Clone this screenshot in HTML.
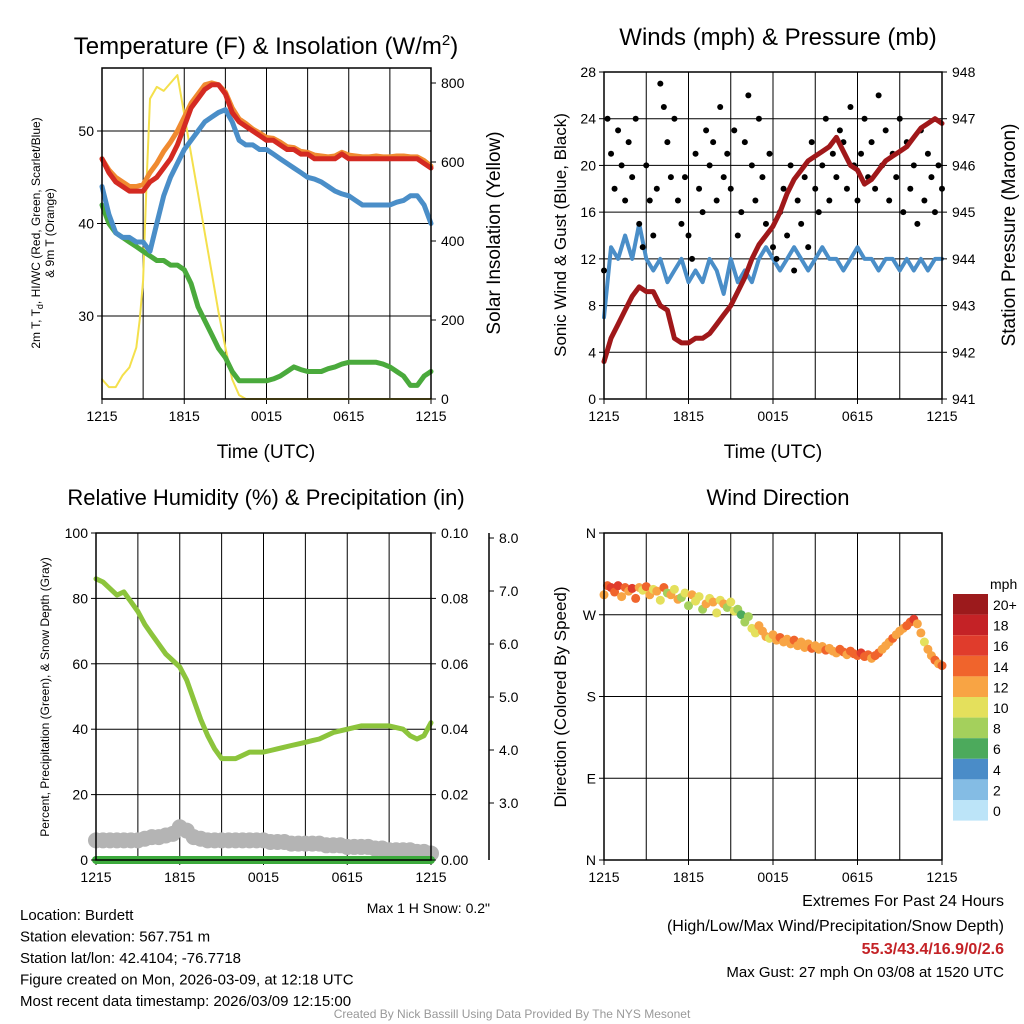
<!DOCTYPE html>
<html><head><meta charset="utf-8">
<style>
body{margin:0;background:#fff;}
svg{display:block;font-family:"Liberation Sans",sans-serif;}
</style></head>
<body>
<svg id="c" width="1024" height="1024" viewBox="0 0 1024 1024">
</svg>
<script>
// ---------- data ----------
const hh = [0,0.5,1,1.5,2,2.5,3,3.5,4,4.5,5,5.5,6,6.5,7,7.5,8,8.5,9,9.5,10,10.5,11,11.5,12,12.5,13,13.5,14,14.5,15,15.5,16,16.5,17,17.5,18,18.5,19,19.5,20,20.5,21,21.5,22,22.5,23,23.5,24];
const tempRed = [47,45.5,44.5,44,43.5,43.5,43.5,44.5,45,46,47,48.5,50.5,52.5,53.5,54.5,55,55,54,52,51,50.5,50,49.5,49,49,48.5,48,48,47.5,47.5,47,47,47,47,47.5,47,47,47,47,47,47,47,47,47,47,47,46.5,46];
const temp9m = [47,45.8,45,44.5,44,44,44.2,45.5,46.5,47.8,48.8,50,51.5,53,54,55,55.2,55,54.2,52.5,51.3,50.8,50.2,49.8,49.3,49.2,48.8,48.3,48.2,47.8,47.7,47.4,47.3,47.2,47.3,47.7,47.4,47.3,47.2,47.2,47.3,47.2,47.2,47.3,47.3,47.2,47.2,46.8,46.2];
const windChill = [44,41,39,38.5,38.5,38,38,37,40,43,45,46.5,48,49,50,51,51.5,52,52.3,51,49,48.5,48.5,48,48,47.5,47,46.5,46,45.5,45,44.8,44.5,44,43.5,43.2,43,42.5,42,42,42,42,42,42.3,42.5,43,43,42,40];
const dewpoint = [42,40,39,38.5,38,37.5,37,36.5,36,36,35.5,35.5,35,33.5,31,29.5,28,26.5,25.5,24,23,23,23,23,23,23.2,23.5,24,24.5,24.2,24,24,24,24.3,24.5,24.8,25,25,25,25,25,24.8,24.5,24,23.5,22.5,22.5,23.5,24];
const solarH = [0,0.5,1,1.5,2,2.5,2.75,3,3.25,3.5,4,4.5,5,5.5,6,6.5,7,7.5,8,8.5,9,9.5,10,10.5,24];
const solar = [50,30,30,60,80,130,200,300,550,760,790,780,800,820,720,620,520,420,320,220,130,50,10,0,0];
const pressure = [941.8,942.3,942.6,942.9,943.2,943.4,943.3,943.3,943.0,942.9,942.3,942.2,942.2,942.3,942.3,942.4,942.6,942.8,943.0,943.3,943.6,944.0,944.3,944.5,944.7,945.0,945.4,945.7,945.9,946.1,946.2,946.3,946.4,946.6,946.3,946.0,945.9,945.6,945.7,945.9,946.1,946.2,946.3,946.4,946.6,946.8,946.9,947.0,946.9];
const sonicWind = [7,13,12,14,12,15,12,11,12,10,11,12,10,11,10,12,11,9,12,10,11,10,12,13,12,11,12,13,12,11,12,13,12,12,11,12,13,12,12,11,12,12,11,12,11,12,11,12,12];
const gust = [11,24,21,18,23,20,17,22,19,24,15,13,20,17,14,18,27,25,22,19,24,17,15,19,14,12,21,18,16,23,20,22,17,25,19,21,18,23,14,16,22,26,20,17,24,19,15,21,13,12,16,18,14,20,11,17,15,19,13,22,18,16,20,24,17,21,19,23,22,18,25,20,17,21,24,19,22,18,26,20,23,17,21,19,24,16,22,18,20,15,23,17,21,19,16,20,18];
const rh = [86,85,83,81,82,79,76,72,69,66,63,61,59,55,49,43,38,34,31,31,31,32,33,33,33,33.5,34,34.5,35,35.5,36,36.5,37,38,39,39.5,40,40.5,41,41,41,41,41,40.5,40,38,37,38,42];
const snowDepth = [6,6,6,6,6,6,6,6.5,7,7,7.5,8,10,9,7,6.5,6,6,6,6,6,6,6,6,6,5.5,5.5,5.5,5,5,5,5,5,4.5,4.5,4.5,4,4,4,4,3.5,3.5,3,3,3,3,2.5,2.5,2];
const windDir = [292,302,300,295,302,290,300,296,299,288,300,297,301,292,298,296,286,300,294,292,298,287,289,294,280,292,285,290,276,282,288,284,272,286,282,278,284,274,276,270,262,268,255,250,258,252,246,244,248,242,245,240,243,238,242,236,240,234,238,233,236,232,235,231,233,230,228,232,229,226,230,227,225,228,224,226,222,225,228,232,236,240,244,248,252,255,258,262,265,260,250,240,232,225,220,216,214];
const windSpd = [12,14,15,13,16,11,14,12,15,13,12,10,14,11,9,12,10,13,8,11,9,12,8,10,7,11,9,10,8,12,9,11,10,9,11,8,10,9,7,6,8,7,9,10,11,12,11,10,12,11,13,12,11,12,13,12,11,12,12,13,12,11,12,13,12,11,12,14,13,12,13,14,13,15,14,13,12,13,14,12,11,12,13,12,11,12,13,14,15,12,11,10,11,12,13,12,13];
const cbLabels = ["20+","18","16","14","12","10","8","6","4","2","0"];
const cbColors = ["#9c1a1c","#c42226","#e03c2c","#f0642c","#f8a444","#e4e05c","#a4d05c","#4caa5c","#4a8cc8","#84bce4","#bce4f8"];
const xTickLabels = ["1215","1815","0015","0615","1215"];

// ---------- helpers ----------
const NS="http://www.w3.org/2000/svg";
const svg=document.getElementById('c');
function mk(tag,attrs,parent){const e=document.createElementNS(NS,tag);for(const k in attrs)e.setAttribute(k,attrs[k]);(parent||svg).appendChild(e);return e;}
function txt(x,y,s,size,anchor,extra){const e=mk('text',Object.assign({x:x,y:y,'font-size':size,'text-anchor':anchor||'middle',fill:'#000'},extra||{}));e.textContent=s;return e;}
function lin(d0,d1,r0,r1){return v=>r0+(v-d0)/(d1-d0)*(r1-r0);}
function pathOf(xs,ys,fx,fy){return xs.map((x,i)=>(i?'L':'M')+fx(x).toFixed(1)+','+fy(ys[i]).toFixed(1)).join('');}
function idxHours(arr){return arr.map((_,i)=>i*24/(arr.length-1));}

function frame(x0,y0,x1,y1,name){
  const r=mk('rect',{x:x0,y:y0,width:x1-x0,height:y1-y0,fill:'none',stroke:'#000','stroke-width':1.5});
  
  
}
function vgrid(x0,y0,x1,y1,name){
  const fx=lin(0,24,x0,x1);
  for(let h=3;h<24;h+=3){
    const l=mk('line',{x1:fx(h),x2:fx(h),y1:y0,y2:y1,stroke:'#000','stroke-width':1});
    
    
  }
  xTickLabels.forEach((s,i)=>{
    const t=txt(fx(i*6),y1+22,s,14);
    
    
    const tk=mk('line',{x1:fx(i*6),x2:fx(i*6),y1:y1,y2:y1+5,stroke:'#000'});
    
    
  });
}
function hgrid(x0,x1,ys,name){
  ys.forEach(y=>{const l=mk('line',{x1:x0,x2:x1,y1:y,y2:y,stroke:'#000','stroke-width':1});
  
  });
}
function yTicks(x,vals,fy,left,name,fmt,size){
  vals.forEach(v=>{
    const tk=mk('line',{x1:x,x2:left?x-5:x+5,y1:fy(v),y2:fy(v),stroke:'#000'});
    
    
    const t=txt(left?x-8:x+10,fy(v)+5,fmt?fmt(v):String(v),size||14,left?'end':'start');
    
    
  });
}
function line(xs,ys,fx,fy,color,w,name){
  const p=mk('path',{d:pathOf(xs,ys,fx,fy),fill:'none',stroke:color,'stroke-width':w,'stroke-linejoin':'round','stroke-linecap':'round'});
  
  
}

// ---------- Panel 1 ----------
(function(){
  const X0=102,X1=431,Y0=68,Y1=399;
  const fx=lin(0,24,X0,X1), fy=lin(30,50,316,131), fs=lin(0,800,399,83);
  vgrid(X0,Y0,X1,Y1,'temp-panel');
  hgrid(X0,X1,[fy(30),fy(40),fy(50)],'temp-panel');
  line(solarH,solar,fx,fs,'#f4e04c',2,'solar-insolation-line');
  line(hh,dewpoint,fx,fy,'#4aaa3c',5,'dewpoint-line');
  line(hh,windChill,fx,fy,'#4a8ec8',5,'wind-chill-line');
  line(hh,temp9m,fx,fy,'#f08a30',5,'temp-9m-line');
  line(hh,tempRed,fx,fy,'#d42a22',5,'temp-2m-line');
  frame(X0,Y0,X1,Y1,'temp-plot-frame');
  yTicks(X0,[30,40,50],fy,true,'temp-y-axis');
  yTicks(X1,[0,200,400,600,800],fs,false,'solar-y-axis');
  let t=txt(266,54,'',24);t.innerHTML='Temperature (F) &amp; Insolation (W/m<tspan dy="-9" font-size="15">2</tspan><tspan dy="9">)</tspan>';
  
  t=txt(266,458,'Time (UTC)',19);
  t=txt(0,0,'2m T, T',12,'middle',{transform:'translate(40,233) rotate(-90)'});
  t.innerHTML='2m T, T<tspan dy="3" font-size="9">d</tspan><tspan dy="-3">, HI/WC (Red, Green, Scarlet/Blue)</tspan>';
  
  t=txt(0,0,'& 9m T (Orange)',12,'middle',{transform:'translate(54,233) rotate(-90)'});
  
  t=txt(0,0,'Solar Insolation (Yellow)',19,'middle',{transform:'translate(500,233) rotate(-90)'});
  
})();

// ---------- Panel 2 ----------
(function(){
  const X0=604,X1=942,Y0=72,Y1=399;
  const fx=lin(0,24,X0,X1), fy=lin(0,28,Y1,Y0), fp=lin(941,948,Y1,Y0);
  vgrid(X0,Y0,X1,Y1,'wind-panel');
  hgrid(X0,X1,[4,8,12,16,20,24].map(fy),'wind-panel');
  line(hh,sonicWind,fx,fy,'#4a8ec8',4,'sonic-wind-line');
  const gh=idxHours(gust);
  gust.forEach((g,i)=>{
    const c=mk('circle',{cx:fx(gh[i]),cy:fy(g),r:3,fill:'#000'});
    
    
  });
  line(hh,pressure,fx,fp,'#a0181a',5,'pressure-line');
  frame(X0,Y0,X1,Y1,'wind-plot-frame');
  yTicks(X0,[0,4,8,12,16,20,24,28],fy,true,'wind-y-axis');
  yTicks(X1,[941,942,943,944,945,946,947,948],fp,false,'pressure-y-axis');
  let t=txt(778,45,'Winds (mph) & Pressure (mb)',24);
  t=txt(773,458,'Time (UTC)',19);
  t=txt(0,0,'Sonic Wind & Gust (Blue, Black)',17,'middle',{transform:'translate(566,235) rotate(-90)'});
  t=txt(0,0,'Station Pressure (Maroon)',19,'middle',{transform:'translate(1015,235) rotate(-90)'});
})();

// ---------- Panel 3 ----------
(function(){
  const X0=96,X1=431,Y0=533,Y1=860;
  const fx=lin(0,24,X0,X1), fy=lin(0,100,Y1,Y0), fq=lin(0,0.1,Y1,Y0), fsn=lin(3,8,803,538);
  vgrid(X0,Y0,X1,Y1,'rh-panel');
  hgrid(X0,X1,[20,40,60,80].map(fy),'rh-panel');
  snowDepth.forEach((v,i)=>{
    const c=mk('circle',{cx:fx(hh[i]),cy:fy(v),r:8,fill:'#b4b4b4'});
    
    
  });
  line(hh,rh,fx,fy,'#8cc43c',5,'relative-humidity-line');
  line([0,24],[0,0],fx,fq,'#3caa3c',8,'precipitation-line');
  frame(X0,Y0,X1,Y1,'rh-plot-frame');
  yTicks(X0,[0,20,40,60,80,100],fy,true,'rh-y-axis');
  yTicks(X1,[0,0.02,0.04,0.06,0.08,0.10],fq,false,'precip-y-axis',v=>v.toFixed(2));
  const ax=mk('line',{x1:489,x2:489,y1:Y0,y2:Y1,stroke:'#000','stroke-width':1.5});
  
  yTicks(489,[3,4,5,6,7,8],fsn,false,'snow-y-axis',v=>v.toFixed(1));
  let t=txt(266,505,'Relative Humidity (%) & Precipitation (in)',22);
  t=txt(0,0,'Percent, Precipitation (Green), & Snow Depth (Gray)',12,'middle',{transform:'translate(49,697) rotate(-90)'});
  t=txt(490,913,'Max 1 H Snow: 0.2"',14,'end');
})();

// ---------- Panel 4 ----------
(function(){
  const X0=604,X1=942,Y0=533,Y1=860;
  const fx=lin(0,24,X0,X1), fy=lin(0,360,Y1,Y0);
  vgrid(X0,Y0,X1,Y1,'dir-panel');
  hgrid(X0,X1,[90,180,270].map(fy),'dir-panel');
  function colorFor(s){let k=Math.min(10,Math.floor(s/2+0.5));return cbColors[10-k];}
  const dh=idxHours(windDir);
  windDir.forEach((d,i)=>{
    const c=mk('circle',{cx:fx(dh[i]),cy:fy(d),r:4.5,fill:colorFor(windSpd[i])});
    
    
  });
  frame(X0,Y0,X1,Y1,'dir-plot-frame');
  yTicks(X0,[0,90,180,270,360],fy,true,'dir-y-axis',v=>['N','E','S','W','N'][v/90]);
  let t=txt(778,505,'Wind Direction',22);
  t=txt(0,0,'Direction (Colored By Speed)',17,'middle',{transform:'translate(566,697) rotate(-90)'});
  t=txt(990,589,'mph',14,'start');
  cbColors.forEach((c,i)=>{
    const r=mk('rect',{x:953,y:594+i*20.6,width:35,height:20.6,fill:c});
    
    
    const l=txt(993,610+i*20.6,cbLabels[i],14,'start');
    
    
  });
})();

// ---------- footer ----------
(function(){
  const left=["Location: Burdett","Station elevation: 567.751 m","Station lat/lon: 42.4104; -76.7718","Figure created on Mon, 2026-03-09, at 12:18 UTC","Most recent data timestamp: 2026/03/09 12:15:00"];
  left.forEach((s,i)=>{const t=txt(20,920+i*21.5,s,15,'start');});
  let t=txt(1004,906,'Extremes For Past 24 Hours',16,'end');
  t=txt(1004,931,'(High/Low/Max Wind/Precipitation/Snow Depth)',16,'end');
  t=txt(1004,954,'55.3/43.4/16.9/0/2.6',16,'end',{fill:'#c42226','font-weight':'bold'});
  t=txt(1004,977,'Max Gust: 27 mph On 03/08 at 1520 UTC',15,'end');
  t=txt(512,1018,'Created By Nick Bassill Using Data Provided By The NYS Mesonet',12,'middle',{fill:'#999'});
})();
</script>
</body></html>
